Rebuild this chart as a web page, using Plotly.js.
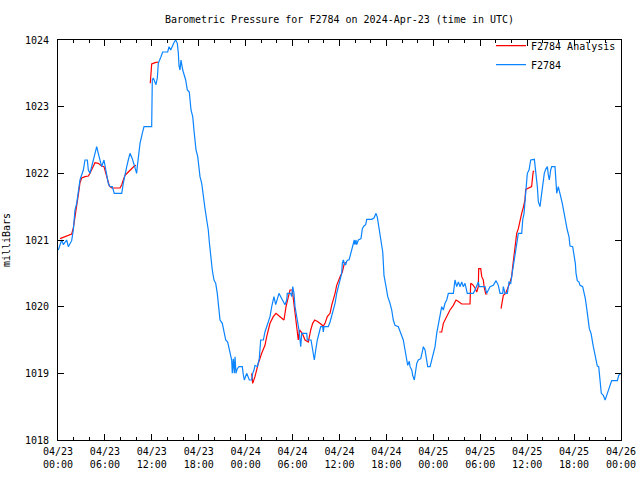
<!DOCTYPE html>
<html>
<head>
<meta charset="utf-8">
<script src="https://cdn.plot.ly/plotly-3.0.1.min.js"></script>
<style>html,body{margin:0;padding:0;background:#fff}#chart{width:640px;height:480px}</style>
</head>
<body>
<div id="chart"></div>
<script>
// Hours since 2024-04-23 00:00 UTC
const stationHours = [
  0.04,0.47,0.68,1.11,1.32,1.75,1.96,2.17,2.39,2.60,
  2.81,3.24,3.45,3.75,3.88,4.09,4.31,4.73,4.95,5.15,
  5.37,5.59,5.88,6.23,6.43,6.65,6.94,7.20,8.15,8.35,
  8.57,8.79,8.99,9.21,9.50,9.76,10.06,10.14,10.27,10.49,
  10.78,11.0,11.98,12.06,12.19,12.53,12.70,12.83,13.17,13.39,
  14.03,14.20,14.41,14.62,14.87,15.05,15.26,15.39,15.47,15.60,
  15.73,15.95,16.11,16.33,16.54,16.79,17.01,17.23,17.43,17.65,
  17.87,18.03,18.16,18.38,18.58,18.80,19.02,19.22,19.35,19.57,
  19.73,19.95,20.17,20.37,20.55,20.72,21.01,21.23,21.45,21.70,
  22.0,22.21,22.29,22.42,22.55,22.64,22.76,22.93,23.15,23.57,
  23.70,23.83,24.13,24.47,24.77,24.90,25.07,25.19,25.49,25.74,
  25.92,26.26,26.47,26.69,26.90,27.11,27.33,27.62,27.84,28.04,
  28.26,28.48,28.73,29.03,29.25,29.32,29.76,29.89,30.02,30.18,
  30.31,30.53,30.73,30.82,31.04,31.17,31.81,31.88,32.36,32.57,
  32.78,32.96,33.16,33.42,33.60,33.85,33.93,34.02,34.57,34.79,
  35.0,35.21,35.43,35.64,35.85,36.07,36.28,36.36,36.49,36.67,
  36.79,36.92,37.05,37.22,37.34,37.47,37.56,37.77,37.89,37.98,
  38.11,38.20,38.41,38.75,38.84,38.92,39.13,39.35,39.48,40.12,
  40.41,40.54,40.67,40.84,40.96,41.09,41.18,41.40,41.53,41.60,
  41.69,41.95,42.17,42.46,42.68,42.88,43.10,43.52,43.74,43.96,
  44.16,44.38,44.60,44.72,44.93,45.02,45.24,45.36,45.57,45.70,
  45.88,46.08,46.39,46.59,46.72,46.94,47.15,47.28,47.58,47.79,
  48.0,48.22,48.43,48.64,48.86,49.07,49.28,49.49,49.71,49.92,
  50.56,50.77,50.99,51.20,51.41,51.63,51.83,52.05,52.34,53.11,
  53.33,53.55,53.75,53.88,54.39,54.61,54.83,55.03,55.25,55.67,
  56.02,56.31,56.53,56.88,56.95,57.17,57.46,57.68,57.90,58.02,
  58.23,58.45,58.66,58.87,59.30,59.43,59.60,59.81,60.02,60.24,
  60.45,60.92,61.13,61.30,61.43,61.64,61.77,61.99,62.19,62.37,
  62.58,62.70,62.83,63.01,63.14,63.56,63.69,63.78,63.98,64.11,
  64.29,64.49,64.71,64.93,65.13,65.35,65.48,65.82,65.99,66.16,
  66.25,66.41,66.63,66.76,67.10,67.27,67.44,67.62,67.82,67.95,
  68.17,68.29,68.46,68.64,68.81,68.97,69.15,69.32,69.48,69.74,
  69.96,70.17,70.38,70.60,70.81,71.53,71.71,71.97
];
const stationPressure = [
  1020.85,1021.0,1020.93,1021.0,1020.9,1020.99,1021.15,1021.45,1021.55,1021.72,
  1021.9,1022.05,1022.2,1022.2,1022.05,1022.0,1022.1,1022.3,1022.4,1022.3,
  1022.2,1022.1,1022.2,1022.0,1021.85,1021.8,1021.8,1021.7,1021.7,1021.85,
  1022.0,1022.1,1022.2,1022.3,1022.22,1022.1,1022.0,1022.1,1022.25,1022.45,
  1022.6,1022.7,1022.7,1023.4,1023.43,1023.33,1023.43,1023.65,1023.75,1023.82,
  1023.82,1023.9,1023.85,1023.92,1023.97,1024.0,1023.95,1023.8,1023.62,1023.55,
  1023.7,1023.55,1023.5,1023.4,1023.25,1023.22,1022.95,1022.85,1022.6,1022.35,
  1022.25,1022.1,1021.95,1021.85,1021.62,1021.47,1021.3,1021.15,1020.97,1020.7,
  1020.55,1020.4,1020.35,1020.2,1020.0,1019.8,1019.75,1019.62,1019.5,1019.47,
  1019.32,1019.2,1019.0,1019.22,1019.0,1019.25,1019.0,1019.07,1019.1,1019.1,
  1018.98,1018.9,1019.0,1018.9,1018.9,1019.0,1019.05,1019.12,1019.1,1019.22,
  1019.5,1019.5,1019.62,1019.7,1019.8,1019.85,1020.0,1020.15,1020.03,1020.1,
  1020.2,1020.15,1020.1,1020.03,1020.1,1020.2,1020.2,1020.15,1020.3,1020.2,
  1020.0,1019.85,1019.75,1019.65,1019.4,1019.6,1019.6,1019.5,1019.5,1019.35,
  1019.2,1019.35,1019.5,1019.62,1019.7,1019.7,1019.62,1019.7,1019.7,1019.77,
  1019.85,1019.95,1020.05,1020.2,1020.3,1020.4,1020.5,1020.65,1020.7,1020.63,
  1020.63,1020.68,1020.7,1020.7,1020.75,1020.8,1020.87,1020.95,1021.0,1020.93,
  1021.0,1020.93,1021.0,1021.02,1021.12,1021.17,1021.21,1021.23,1021.31,1021.31,
  1021.33,1021.37,1021.4,1021.34,1021.25,1021.15,1021.07,1020.92,1020.82,1020.67,
  1020.47,1020.3,1020.15,1020.05,1019.95,1019.8,1019.72,1019.7,1019.62,1019.55,
  1019.5,1019.35,1019.2,1019.12,1019.18,1019.1,1019.05,1018.97,1018.9,1019.0,
  1019.15,1019.2,1019.22,1019.32,1019.4,1019.35,1019.2,1019.1,1019.1,1019.2,
  1019.3,1019.4,1019.6,1019.75,1019.85,1020.0,1019.95,1020.05,1020.1,1020.2,
  1020.2,1020.4,1020.3,1020.37,1020.3,1020.37,1020.3,1020.35,1020.2,1020.2,
  1020.25,1020.32,1020.37,1020.3,1020.3,1020.3,1020.2,1020.25,1020.3,1020.32,
  1020.39,1020.32,1020.2,1020.2,1020.3,1020.2,1020.2,1020.37,1020.35,1020.45,
  1020.6,1020.75,1020.92,1021.1,1021.1,1021.3,1021.4,1021.65,1022.0,1022.05,
  1022.2,1022.21,1022.0,1021.8,1021.57,1021.5,1021.62,1021.85,1022.0,1022.06,
  1022.1,1021.98,1021.9,1022.05,1022.1,1022.1,1021.9,1021.7,1021.8,1021.75,
  1021.65,1021.55,1021.4,1021.3,1021.15,1021.05,1020.91,1020.9,1020.8,1020.65,
  1020.5,1020.39,1020.37,1020.32,1020.3,1020.22,1020.12,1019.97,1019.82,1019.67,
  1019.6,1019.5,1019.4,1019.3,1019.2,1019.11,1019.1,1018.92,1018.7,1018.67,
  1018.6,1018.67,1018.75,1018.82,1018.89,1018.89,1018.97,1019.0
];
// Analysis series (null = gap)
const analysisHours = [
  0.26,0.68,1.11,1.75,1.96,2.17,2.47,2.69,2.81,3.03,
  3.45,3.88,4.09,4.31,4.51,4.73,5.15,5.59,5.88,6.10,
  6.36,6.56,6.87,7.93,8.15,8.35,8.57,8.99,9.43,9.76,9.98,
  null,
  11.80,11.89,11.98,12.41,12.83,
  null,
  24.77,24.90,25.19,25.62,26.05,26.47,26.69,27.11,27.53,27.88,
  28.39,28.90,29.16,29.45,29.67,29.96,30.18,30.40,30.60,30.73,
  30.89,31.24,31.59,32.01,32.32,32.57,32.83,33.29,33.93,34.15,
  34.44,34.79,35.0,35.21,35.43,35.64,35.85,36.07,36.36,36.62,36.83,
  null,
  48.76,49.07,49.28,49.71,50.13,50.56,50.90,51.16,51.63,52.69,
  52.78,53.04,53.33,53.55,53.75,53.80,54.06,54.19,54.39,54.52,54.70,54.91,
  null,
  56.66,56.82,56.95,57.26,57.39,57.59,57.81,58.02,58.15,58.32,
  58.49,58.66,58.87,59.09,59.30,59.51,59.72,59.81,60.14,60.57,
  60.70,60.78,60.90
];
const analysisPressure = [
  1021.02,1021.04,1021.06,1021.09,1021.18,1021.33,1021.55,1021.75,1021.86,1021.93,
  1021.95,1021.96,1022.0,1022.05,1022.1,1022.16,1022.15,1022.11,1022.1,1022.02,
  1021.9,1021.81,1021.78,1021.78,1021.83,1021.9,1021.97,1022.02,1022.08,1022.11,1022.12,
  null,
  1023.35,1023.5,1023.64,1023.66,1023.67,
  null,
  1019.0,1018.85,1018.95,1019.15,1019.3,1019.42,1019.55,1019.75,1019.85,1019.9,
  1019.85,1019.8,1020.0,1020.15,1020.25,1020.25,1020.05,1019.85,1019.65,1019.5,
  1019.65,1019.6,1019.5,1019.47,1019.65,1019.75,1019.8,1019.77,1019.71,1019.75,
  1019.85,1019.9,1020.02,1020.1,1020.2,1020.32,1020.4,1020.45,1020.52,1020.65,1020.66,
  null,
  1019.62,1019.62,1019.75,1019.86,1019.95,1020.02,1020.1,1020.08,1020.04,1020.04,
  1020.35,1020.33,1020.28,1020.22,1020.3,1020.57,1020.57,1020.45,1020.4,1020.28,1020.19,1020.19,
  null,
  1019.97,1020.1,1020.17,1020.2,1020.25,1020.3,1020.37,1020.45,1020.6,1020.75,
  1020.95,1021.1,1021.17,1021.3,1021.4,1021.49,1021.6,1021.76,1021.78,1021.8,
  1021.95,1022.03,1022.03
];
const tickHours = [0,6,12,18,24,30,36,42,48,54,60,66,72];
const tickLabels = [
  "04/23<br>00:00","04/23<br>06:00","04/23<br>12:00","04/23<br>18:00",
  "04/24<br>00:00","04/24<br>06:00","04/24<br>12:00","04/24<br>18:00",
  "04/25<br>00:00","04/25<br>06:00","04/25<br>12:00","04/25<br>18:00",
  "04/26<br>00:00"
];

const FONT = {family: "DejaVu Sans Mono, Liberation Mono, monospace", size: 10, color: "#000"};

const traces = [
  {x: analysisHours, y: analysisPressure, type: "scatter", mode: "lines",
   name: "F2784 Analysis", line: {color: "#ff0000", width: 1.2}, connectgaps: false},
  {x: stationHours, y: stationPressure, type: "scatter", mode: "lines",
   name: "F2784", line: {color: "#0a84ff", width: 1.2}}
];

const layout = {
  width: 640, height: 480,
  margin: {l: 58, r: 19, t: 40, b: 40, pad: 0},
  paper_bgcolor: "#fff", plot_bgcolor: "#fff",
  font: FONT,
  title: {text: "Barometric Pressure for F2784 on 2024-Apr-23 (time in UTC)",
          font: FONT, x: 0.5, xref: "paper", xanchor: "center",
          y: 1 - 19/480, yref: "container", yanchor: "middle"},
  showlegend: true,
  legend: {x: 1, xanchor: "right", y: 1.022, yanchor: "top", bgcolor: "rgba(0,0,0,0)",
           font: FONT, traceorder: "normal", tracegroupgap: 0},
  xaxis: {range: [0, 72], tickmode: "array", tickvals: tickHours, ticktext: tickLabels,
          ticks: "inside", ticklen: 6, tickcolor: "#000", showline: true, linecolor: "#000",
          linewidth: 1, mirror: "ticks", showgrid: false, zeroline: false,
          tickfont: FONT, ticklabelstandoff: 2,
          minor: {dtick: 2, tick0: 0, ticks: "inside", ticklen: 3, tickcolor: "#000", showgrid: false}},
  yaxis: {range: [1018, 1024], dtick: 1, tick0: 1018, ticks: "inside", ticklen: 6,
          tickcolor: "#000", showline: true, linecolor: "#000", linewidth: 1, mirror: "ticks",
          showgrid: false, zeroline: false, tickfont: FONT, ticklabelstandoff: 6,
          title: {text: "milliBars", font: FONT, standoff: 12}}
};

Plotly.newPlot("chart", traces, layout, {displayModeBar: false, staticPlot: true});
</script>
</body>
</html>
